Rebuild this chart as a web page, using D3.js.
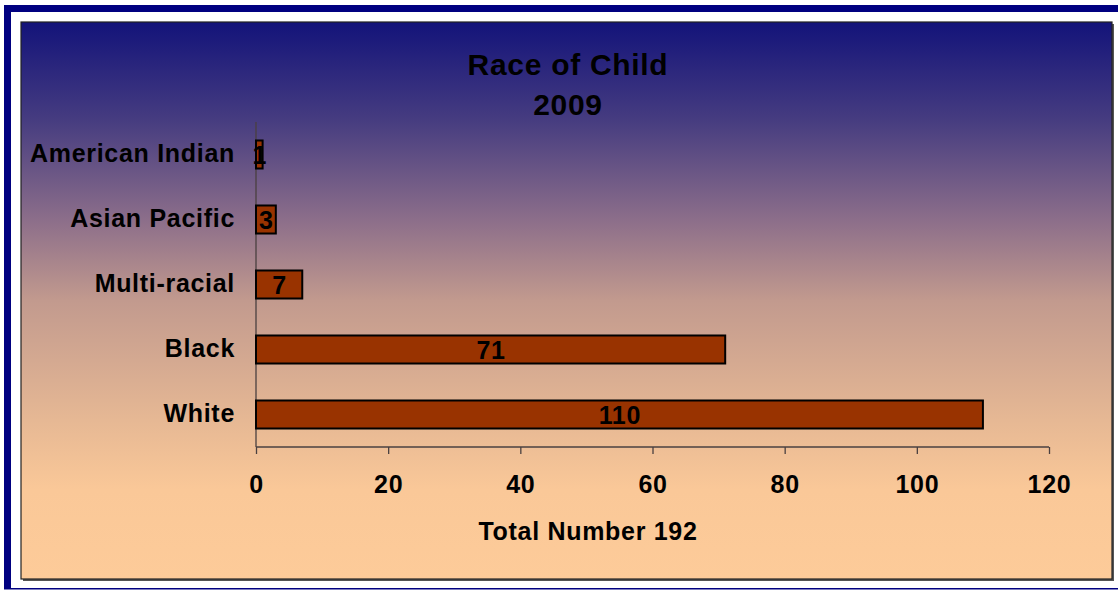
<!DOCTYPE html>
<html>
<head>
<meta charset="utf-8">
<script src="https://cdn.jsdelivr.net/npm/d3@7/dist/d3.min.js"></script>
<style>
  html, body { margin: 0; padding: 0; background: #ffffff; }
  svg { display: block; }
  text { font-family: "Liberation Sans", Arial, sans-serif; font-weight: bold; fill: #000; letter-spacing: 0.7px; }
</style>
</head>
<body>
<script>
// ---- data ----
const categories = ["American Indian", "Asian Pacific", "Multi-racial", "Black", "White"];
const values = [1, 3, 7, 71, 110];
const xTicks = [0, 20, 40, 60, 80, 100, 120];
const titleLines = ["Race of Child", "2009"];
const xAxisTitle = "Total Number 192";

const W = 1118, H = 590;
const svg = d3.select("body").append("svg").attr("width", W).attr("height", H);

const defs = svg.append("defs");
const grad = defs.append("linearGradient").attr("id", "bg")
  .attr("gradientUnits", "userSpaceOnUse")
  .attr("x1", 0).attr("y1", 22).attr("x2", 0).attr("y2", 579);
[[0, "#13137a"], [0.176, "#463c80"], [0.355, "#8c6e8a"], [0.50, "#c29a8e"], [0.715, "#e6b894"], [0.84, "#fac898"], [1, "#fdcb99"]]
  .forEach(([o, c]) => grad.append("stop").attr("offset", o).attr("stop-color", c));

// outer navy frame
svg.append("rect").attr("x", 4).attr("y", 5).attr("width", W - 4).attr("height", 7).attr("fill", "#000080");
svg.append("rect").attr("x", 4).attr("y", 5).attr("width", 7).attr("height", 584).attr("fill", "#000080");
svg.append("rect").attr("x", 4).attr("y", 588).attr("width", W - 4).attr("height", 1.5).attr("fill", "#000080");

// chart area shadow + panel
svg.append("rect").attr("x", 23).attr("y", 24).attr("width", 1091).attr("height", 557).attr("fill", "#555");
svg.append("rect").attr("x", 21).attr("y", 22).attr("width", 1091).attr("height", 557)
  .attr("fill", "url(#bg)").attr("stroke", "#222").attr("stroke-width", 1.2);

// scales
const x = d3.scaleLinear().domain([0, 120]).range([256, 1049]);
const y = d3.scaleBand().domain(categories).range([122, 447]).paddingInner(0.569).paddingOuter(0.2845);

// x axis
const axisG = svg.append("g").attr("transform", "translate(0,447)")
  .call(d3.axisBottom(x).tickValues(xTicks).tickSize(7).tickFormat(d3.format("d")));
axisG.select(".domain").attr("stroke", "#4a4040").attr("stroke-width", 1.3).attr("d", "M256,0H1049");
axisG.selectAll(".tick line").attr("stroke", "#4a4040").attr("stroke-width", 1.3);
axisG.selectAll(".tick text").attr("y", 46).attr("dy", 0).style("font-size", "25px")
  .style("font-family", "'Liberation Sans', Arial, sans-serif").style("font-weight", "bold").attr("fill", "#000");

// y axis line
svg.append("line").attr("x1", x(0)).attr("x2", x(0)).attr("y1", 122).attr("y2", 447)
  .attr("stroke", "#4a4040").attr("stroke-width", 1.3);

// bars
const data = categories.map((c, i) => ({ c, v: values[i] }));
svg.append("g").selectAll("rect").data(data).join("rect")
  .attr("x", x(0)).attr("y", d => y(d.c))
  .attr("width", d => x(d.v) - x(0)).attr("height", y.bandwidth())
  .attr("fill", "#993300").attr("stroke", "#000").attr("stroke-width", 2);

// bar labels
svg.append("g").selectAll("text").data(data).join("text")
  .attr("x", d => (x(0) + x(d.v)) / 2 + 0.4)
  .attr("y", d => y(d.c) + y.bandwidth() / 2 + 9)
  .attr("text-anchor", "middle").style("font-size", "25px")
  .text(d => d.v);

// category labels
svg.append("g").selectAll("text").data(categories).join("text")
  .attr("x", 235).attr("y", d => y(d) + y.bandwidth() / 2 + 7)
  .attr("text-anchor", "end").style("font-size", "25px")
  .text(d => d);

// title
svg.append("g").selectAll("text").data(titleLines).join("text")
  .attr("x", 568).attr("y", (d, i) => 75 + i * 40)
  .attr("text-anchor", "middle").style("font-size", "30px")
  .text(d => d);

// x axis title
svg.append("text").attr("x", 588).attr("y", 540).attr("text-anchor", "middle")
  .style("font-size", "25px").text(xAxisTitle);
</script>
</body>
</html>
